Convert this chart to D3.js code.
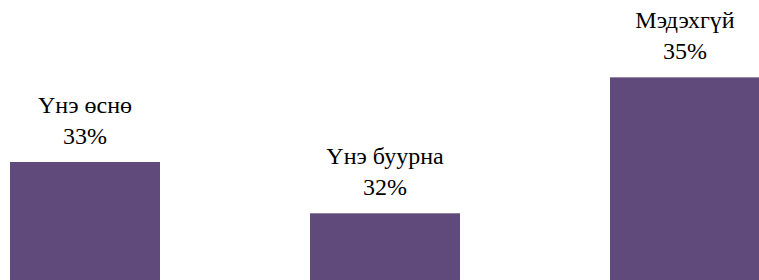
<!DOCTYPE html>
<html>
<head>
<meta charset="utf-8">
<script src="https://cdn.jsdelivr.net/npm/d3@7"></script>
<style>
  body { margin: 0; background: #fff; }
</style>
</head>
<body>
<div id="chart"></div>
<script>
const categories = ["Үнэ өснө", "Үнэ буурна", "Мэдэхгүй"];
const values = [33.3, 32.3, 34.95];
const labels = ["33%", "32%", "35%"];

const width = 759, height = 280;
const labelFont = "Liberation Serif";

const svg = d3.select("#chart")
  .append("svg")
  .attr("width", width)
  .attr("height", height);

const data = categories.map((c, i) => ({ cat: c, value: values[i], label: labels[i] }));

// band layout: bars 150px wide every 300px
const x = d3.scaleBand()
  .domain(categories)
  .range([-65, 835])
  .paddingInner(0.5)
  .paddingOuter(0.25);

// axis does not start at zero in the original
const y = d3.scaleLinear()
  .domain([31, 36])
  .range([height, height - 5 * 51.3]);

svg.selectAll("rect")
  .data(data)
  .enter()
  .append("rect")
  .attr("x", d => x(d.cat))
  .attr("y", d => y(d.value))
  .attr("width", x.bandwidth())
  .attr("height", d => height - y(d.value))
  .attr("fill", "#604A7B");

// category name line
svg.selectAll("text.cat")
  .data(data)
  .enter()
  .append("text")
  .attr("class", "cat")
  .attr("x", d => x(d.cat) + x.bandwidth() / 2)
  .attr("y", d => y(d.value) - 49)
  .attr("text-anchor", "middle")
  .style("font-family", `"${labelFont}"`)
  .style("font-size", "24px")
  .text(d => d.cat);

// percentage line
svg.selectAll("text.pct")
  .data(data)
  .enter()
  .append("text")
  .attr("class", "pct")
  .attr("x", d => x(d.cat) + x.bandwidth() / 2)
  .attr("y", d => y(d.value) - 18)
  .attr("text-anchor", "middle")
  .style("font-family", `"${labelFont}"`)
  .style("font-size", "24px")
  .text(d => d.label);
</script>
</body>
</html>
